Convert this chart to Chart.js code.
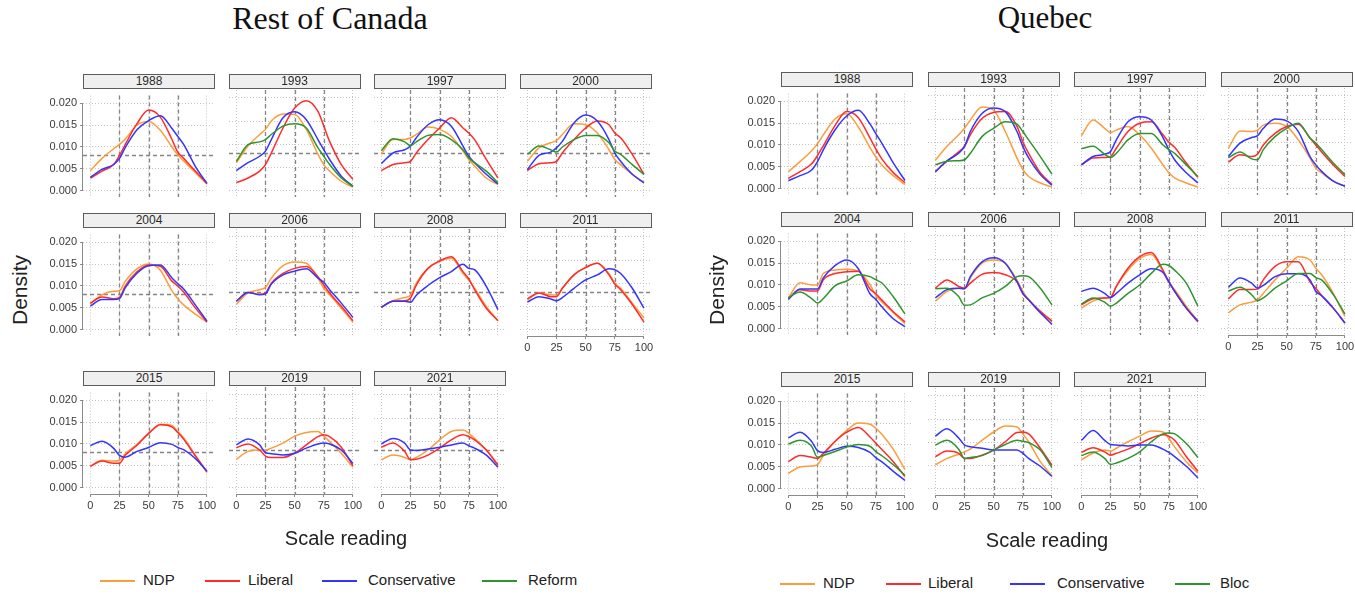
<!DOCTYPE html>
<html>
<head>
<meta charset="utf-8">
<script src="https://cdn.jsdelivr.net/npm/chart.js@4.4.1/dist/chart.umd.min.js"></script>
<style>
  body { margin: 0; background: #fff; }
  #page { position: relative; width: 1355px; height: 595px; overflow: hidden; font-family: "Liberation Sans", Arial, sans-serif; }
  .title { position: absolute; font-family: "Liberation Serif", "Times New Roman", serif; font-size: 32px; color: #111; transform: translateX(-50%); white-space: nowrap; }
  .strip { position: absolute; box-sizing: border-box; width: 132px; height: 15px; border: 1px solid #5c5c5c; background: #efefef; color: #2a2a2a; font-size: 12px; line-height: 13px; text-align: center; z-index: 2; }
  .facet { position: absolute; }
  .axtitle { position: absolute; font-size: 20px; color: #222; white-space: nowrap; }
  .legend { position: absolute; font-size: 15px; color: #222; white-space: nowrap; }
  .legend span.line { position: absolute; height: 0; border-top: 2px solid; width: 35px; }
  .legend span.txt { position: absolute; }
</style>
</head>
<body>
<div id="page"></div>
<script>
// sample points along the scale (0-100)
const xs = [0, 10, 20, 25, 30, 40, 50, 60, 70, 75, 80, 90, 100];
const years = ['1988', '1993', '1997', '2000', '2004', '2006', '2008', '2011', '2015', '2019', '2021'];
const xTicks = [0, 25, 50, 75, 100];
const yTicks = [0, 0.005, 0.010, 0.015, 0.020];
const refX = [25, 50, 75];
const refYRoc = 0.0082;

// Rest of Canada, one row per year
const rocNDP = [
  [0.0046,0.0074,0.0096,0.0106,0.0118,0.0150,0.0158,0.0138,0.0100,0.0082,0.0068,0.0042,0.0015],
  [0.0060,0.0096,0.0121,0.0132,0.0150,0.0165,0.0164,0.0132,0.0078,0.0056,0.0042,0.0020,0.0007],
  [0.0079,0.0110,0.0110,0.0114,0.0121,0.0137,0.0132,0.0117,0.0085,0.0067,0.0053,0.0027,0.0013],
  [0.0063,0.0092,0.0103,0.0108,0.0121,0.0144,0.0142,0.0124,0.0088,0.0067,0.0056,0.0035,0.0017],
  [0.0059,0.0080,0.0088,0.0089,0.0111,0.0139,0.0150,0.0136,0.0089,0.0071,0.0057,0.0036,0.0018],
  [0.0054,0.0079,0.0086,0.0091,0.0111,0.0138,0.0146,0.0143,0.0111,0.0089,0.0075,0.0046,0.0016],
  [0.0049,0.0062,0.0069,0.0074,0.0100,0.0132,0.0148,0.0154,0.0121,0.0107,0.0089,0.0050,0.0019],
  [0.0064,0.0079,0.0075,0.0074,0.0089,0.0118,0.0134,0.0143,0.0121,0.0100,0.0089,0.0057,0.0025],
  [0.0049,0.0063,0.0061,0.0063,0.0078,0.0099,0.0124,0.0145,0.0142,0.0128,0.0114,0.0074,0.0035],
  [0.0061,0.0078,0.0081,0.0081,0.0085,0.0096,0.0111,0.0119,0.0121,0.0111,0.0099,0.0074,0.0044],
  [0.0060,0.0070,0.0065,0.0060,0.0065,0.0081,0.0103,0.0121,0.0124,0.0117,0.0106,0.0081,0.0047]
];
const rocLiberal = [
  [0.0029,0.0045,0.0060,0.0081,0.0106,0.0153,0.0184,0.0168,0.0117,0.0088,0.0074,0.0045,0.0017],
  [0.0017,0.0027,0.0042,0.0056,0.0081,0.0135,0.0178,0.0194,0.0171,0.0139,0.0106,0.0056,0.0024],
  [0.0043,0.0056,0.0060,0.0063,0.0081,0.0110,0.0135,0.0157,0.0135,0.0124,0.0110,0.0067,0.0027],
  [0.0043,0.0058,0.0060,0.0063,0.0081,0.0110,0.0135,0.0150,0.0142,0.0124,0.0114,0.0078,0.0035],
  [0.0061,0.0075,0.0071,0.0074,0.0100,0.0132,0.0148,0.0145,0.0111,0.0100,0.0086,0.0050,0.0018],
  [0.0061,0.0080,0.0076,0.0079,0.0100,0.0121,0.0132,0.0136,0.0114,0.0096,0.0079,0.0050,0.0019],
  [0.0048,0.0061,0.0062,0.0068,0.0096,0.0132,0.0148,0.0157,0.0125,0.0109,0.0086,0.0046,0.0019],
  [0.0066,0.0079,0.0071,0.0071,0.0089,0.0118,0.0134,0.0143,0.0118,0.0098,0.0086,0.0054,0.0016],
  [0.0049,0.0061,0.0056,0.0056,0.0074,0.0097,0.0124,0.0144,0.0139,0.0126,0.0111,0.0073,0.0037],
  [0.0086,0.0094,0.0081,0.0068,0.0065,0.0065,0.0074,0.0092,0.0110,0.0114,0.0110,0.0087,0.0047],
  [0.0087,0.0096,0.0078,0.0060,0.0061,0.0070,0.0085,0.0103,0.0114,0.0110,0.0103,0.0081,0.0049]
];
const rocConservative = [
  [0.0031,0.0049,0.0060,0.0074,0.0099,0.0139,0.0160,0.0171,0.0142,0.0124,0.0106,0.0056,0.0017],
  [0.0043,0.0060,0.0074,0.0085,0.0110,0.0157,0.0170,0.0153,0.0110,0.0088,0.0067,0.0031,0.0009],
  [0.0058,0.0081,0.0088,0.0096,0.0114,0.0142,0.0153,0.0139,0.0096,0.0074,0.0060,0.0035,0.0014],
  [0.0045,0.0076,0.0083,0.0092,0.0106,0.0146,0.0163,0.0150,0.0110,0.0081,0.0063,0.0035,0.0017],
  [0.0054,0.0069,0.0069,0.0071,0.0096,0.0129,0.0146,0.0148,0.0118,0.0105,0.0093,0.0057,0.0020],
  [0.0061,0.0080,0.0075,0.0077,0.0098,0.0118,0.0126,0.0131,0.0111,0.0102,0.0086,0.0057,0.0026],
  [0.0048,0.0061,0.0061,0.0059,0.0074,0.0095,0.0112,0.0125,0.0141,0.0132,0.0129,0.0093,0.0043],
  [0.0059,0.0071,0.0066,0.0062,0.0069,0.0089,0.0107,0.0118,0.0131,0.0129,0.0121,0.0089,0.0046],
  [0.0096,0.0106,0.0090,0.0074,0.0070,0.0083,0.0092,0.0103,0.0099,0.0092,0.0087,0.0067,0.0038],
  [0.0092,0.0105,0.0092,0.0075,0.0073,0.0070,0.0074,0.0085,0.0094,0.0096,0.0094,0.0081,0.0052],
  [0.0094,0.0106,0.0096,0.0081,0.0080,0.0083,0.0087,0.0092,0.0096,0.0090,0.0085,0.0070,0.0044]
];
const rocReform = [
  null,
  [0.0063,0.0099,0.0105,0.0110,0.0121,0.0139,0.0144,0.0135,0.0092,0.0074,0.0056,0.0027,0.0009],
  [0.0086,0.0112,0.0105,0.0097,0.0105,0.0119,0.0121,0.0110,0.0088,0.0070,0.0060,0.0042,0.0017],
  [0.0078,0.0096,0.0088,0.0083,0.0094,0.0110,0.0119,0.0119,0.0103,0.0085,0.0078,0.0056,0.0035],
  null, null, null, null, null, null, null
];

// Quebec
const qcNDP = [
  [0.0039,0.0062,0.0087,0.0103,0.0123,0.0159,0.0171,0.0141,0.0094,0.0073,0.0055,0.0030,0.0010],
  [0.0061,0.0091,0.0116,0.0130,0.0148,0.0176,0.0169,0.0123,0.0066,0.0041,0.0026,0.0012,0.0003],
  [0.0114,0.0148,0.0130,0.0121,0.0126,0.0134,0.0116,0.0087,0.0051,0.0034,0.0023,0.0012,0.0003],
  [0.0087,0.0124,0.0123,0.0126,0.0137,0.0141,0.0134,0.0105,0.0066,0.0044,0.0034,0.0016,0.0005],
  [0.0071,0.0105,0.0100,0.0100,0.0126,0.0134,0.0136,0.0131,0.0101,0.0076,0.0062,0.0037,0.0012],
  [0.0059,0.0080,0.0087,0.0086,0.0109,0.0141,0.0148,0.0141,0.0105,0.0080,0.0062,0.0037,0.0014],
  [0.0044,0.0059,0.0066,0.0067,0.0091,0.0126,0.0151,0.0160,0.0123,0.0100,0.0084,0.0048,0.0016],
  [0.0034,0.0051,0.0057,0.0062,0.0076,0.0105,0.0130,0.0155,0.0148,0.0130,0.0116,0.0076,0.0026],
  [0.0035,0.0050,0.0052,0.0055,0.0076,0.0108,0.0133,0.0150,0.0147,0.0138,0.0125,0.0090,0.0044],
  [0.0051,0.0065,0.0074,0.0079,0.0085,0.0104,0.0122,0.0135,0.0133,0.0118,0.0101,0.0058,0.0028],
  [0.0062,0.0076,0.0083,0.0081,0.0087,0.0101,0.0113,0.0124,0.0122,0.0108,0.0090,0.0058,0.0033]
];
const qcLiberal = [
  [0.0024,0.0039,0.0057,0.0076,0.0098,0.0144,0.0176,0.0162,0.0116,0.0091,0.0069,0.0037,0.0014],
  [0.0037,0.0059,0.0079,0.0091,0.0116,0.0151,0.0164,0.0166,0.0134,0.0101,0.0076,0.0034,0.0009],
  [0.0051,0.0066,0.0067,0.0069,0.0087,0.0123,0.0141,0.0144,0.0116,0.0100,0.0089,0.0055,0.0024],
  [0.0057,0.0073,0.0069,0.0074,0.0094,0.0119,0.0134,0.0139,0.0109,0.0094,0.0079,0.0051,0.0026],
  [0.0069,0.0089,0.0086,0.0086,0.0112,0.0126,0.0130,0.0131,0.0091,0.0080,0.0066,0.0039,0.0016],
  [0.0087,0.0105,0.0091,0.0087,0.0098,0.0117,0.0121,0.0116,0.0101,0.0076,0.0062,0.0037,0.0016],
  [0.0051,0.0064,0.0066,0.0067,0.0091,0.0130,0.0155,0.0164,0.0126,0.0101,0.0081,0.0044,0.0014],
  [0.0064,0.0084,0.0084,0.0085,0.0105,0.0134,0.0144,0.0144,0.0101,0.0087,0.0071,0.0044,0.0012],
  [0.0062,0.0076,0.0072,0.0069,0.0081,0.0108,0.0129,0.0140,0.0118,0.0104,0.0090,0.0062,0.0028],
  [0.0069,0.0081,0.0076,0.0065,0.0065,0.0072,0.0083,0.0101,0.0121,0.0122,0.0118,0.0087,0.0050],
  [0.0078,0.0088,0.0079,0.0072,0.0076,0.0085,0.0097,0.0109,0.0116,0.0113,0.0104,0.0069,0.0037]
];
const qcConservative = [
  [0.0019,0.0030,0.0043,0.0062,0.0089,0.0134,0.0166,0.0179,0.0148,0.0126,0.0105,0.0059,0.0019],
  [0.0036,0.0060,0.0076,0.0091,0.0123,0.0162,0.0174,0.0166,0.0123,0.0091,0.0066,0.0030,0.0007],
  [0.0051,0.0069,0.0074,0.0080,0.0105,0.0144,0.0155,0.0148,0.0110,0.0084,0.0062,0.0034,0.0012],
  [0.0069,0.0098,0.0110,0.0114,0.0130,0.0150,0.0146,0.0123,0.0069,0.0051,0.0037,0.0016,0.0005],
  [0.0067,0.0091,0.0091,0.0091,0.0116,0.0144,0.0157,0.0137,0.0080,0.0067,0.0051,0.0023,0.0005],
  [0.0066,0.0084,0.0087,0.0086,0.0112,0.0144,0.0153,0.0141,0.0101,0.0076,0.0062,0.0034,0.0009],
  [0.0080,0.0087,0.0076,0.0067,0.0076,0.0098,0.0116,0.0129,0.0121,0.0101,0.0080,0.0044,0.0016],
  [0.0089,0.0109,0.0098,0.0087,0.0093,0.0112,0.0118,0.0118,0.0105,0.0080,0.0071,0.0044,0.0012],
  [0.0116,0.0129,0.0108,0.0087,0.0083,0.0090,0.0097,0.0094,0.0083,0.0071,0.0062,0.0040,0.0019],
  [0.0113,0.0129,0.0109,0.0094,0.0090,0.0087,0.0083,0.0083,0.0083,0.0076,0.0065,0.0048,0.0026],
  [0.0104,0.0125,0.0104,0.0095,0.0094,0.0092,0.0094,0.0094,0.0085,0.0078,0.0069,0.0048,0.0023]
];
const qcBloc = [
  null,
  [0.0051,0.0059,0.0060,0.0062,0.0076,0.0112,0.0130,0.0144,0.0139,0.0123,0.0105,0.0069,0.0031],
  [0.0086,0.0091,0.0074,0.0067,0.0076,0.0105,0.0119,0.0119,0.0094,0.0084,0.0076,0.0051,0.0026],
  [0.0066,0.0079,0.0064,0.0062,0.0084,0.0112,0.0130,0.0141,0.0109,0.0098,0.0084,0.0055,0.0030],
  [0.0071,0.0084,0.0069,0.0059,0.0069,0.0098,0.0109,0.0123,0.0119,0.0112,0.0105,0.0073,0.0034],
  [0.0086,0.0087,0.0069,0.0050,0.0051,0.0066,0.0076,0.0091,0.0112,0.0114,0.0112,0.0087,0.0051],
  [0.0053,0.0066,0.0057,0.0048,0.0055,0.0076,0.0094,0.0119,0.0139,0.0136,0.0126,0.0098,0.0048],
  [0.0081,0.0089,0.0073,0.0060,0.0066,0.0087,0.0103,0.0119,0.0119,0.0110,0.0105,0.0073,0.0031],
  [0.0102,0.0111,0.0097,0.0072,0.0076,0.0085,0.0095,0.0101,0.0097,0.0085,0.0076,0.0055,0.0031],
  [0.0094,0.0104,0.0085,0.0065,0.0067,0.0071,0.0083,0.0095,0.0104,0.0102,0.0099,0.0083,0.0045],
  [0.0071,0.0079,0.0065,0.0052,0.0055,0.0065,0.0079,0.0101,0.0118,0.0120,0.0118,0.0097,0.0067]
];

const colors = { ndp: '#fb9d3c', lib: '#ff2b2b', con: '#3434ff', third: '#2e952e' };
Chart.defaults.font.family = '"Liberation Sans", Arial, sans-serif';

const page = document.getElementById('page');

// plot geometry (pixels)
const PLOT_W = 132, PLOT_H = 107;
const PAD_L = 50, PAD_R = 14, PAD_T = 4, PAD_B = 24;

// dashed reference lines and range-frame axes
const refLines = {
  id: 'refLines',
  beforeDatasetsDraw(chart, args, opts) {
    const { ctx, chartArea: a, scales: { x, y } } = chart;
    ctx.save();
    ctx.strokeStyle = '#858585';
    ctx.lineWidth = 1.3;
    ctx.setLineDash([4, 3]);
    refX.forEach(v => {
      const px = Math.round(x.getPixelForValue(v)) + 0.5;
      ctx.beginPath(); ctx.moveTo(px, a.top); ctx.lineTo(px, a.bottom); ctx.stroke();
    });
    if (opts.refY != null) {
      const py = Math.round(y.getPixelForValue(opts.refY)) + 0.5;
      ctx.beginPath(); ctx.moveTo(a.left, py); ctx.lineTo(a.right, py); ctx.stroke();
    }
    ctx.restore();
  },
  afterDraw(chart, args, opts) {
    const { ctx, chartArea: a, scales: { x, y } } = chart;
    ctx.save();
    ctx.strokeStyle = '#8a8a8a';
    ctx.lineWidth = 1;
    if (opts.yAxis) {
      ctx.beginPath();
      ctx.moveTo(a.left - 0.5, y.getPixelForValue(yTicks[0]));
      ctx.lineTo(a.left - 0.5, y.getPixelForValue(yTicks[yTicks.length - 1]));
      ctx.stroke();
    }
    if (opts.xAxis) {
      ctx.beginPath();
      ctx.moveTo(x.getPixelForValue(xTicks[0]), a.bottom + 0.5);
      ctx.lineTo(x.getPixelForValue(xTicks[xTicks.length - 1]), a.bottom + 0.5);
      ctx.stroke();
    }
    ctx.restore();
  }
};

function addDiv(cls, css, text) {
  const d = document.createElement('div');
  d.className = cls;
  Object.assign(d.style, css);
  if (text != null) d.textContent = text;
  page.appendChild(d);
  return d;
}

function drawPanel(panel) {
  years.forEach((yr, i) => {
    const row = Math.floor(i / 4), col = i % 4;
    const left = panel.lefts[col], stripTop = panel.stripTops[row];
    addDiv('strip', { left: left + 'px', top: stripTop + 'px' }, yr);

    const showY = col === 0;
    const showX = i >= 7;
    const canvas = document.createElement('canvas');
    canvas.width = PAD_L + PLOT_W + PAD_R;
    canvas.height = PAD_T + PLOT_H + PAD_B;
    canvas.className = 'facet';
    canvas.style.left = (left - PAD_L) + 'px';
    canvas.style.top = (stripTop + 16 - PAD_T) + 'px';
    page.appendChild(canvas);

    // reverse so the third party ends up drawn on top
    const datasets = panel.series
      .filter(s => s.data[i])
      .map(s => ({
        label: s.label,
        data: xs.map((x, k) => ({ x, y: s.data[i][k] })),
        borderColor: s.color,
        borderWidth: 1.5,
        pointRadius: 0,
        fill: false,
        cubicInterpolationMode: 'monotone'
      }))
      .reverse();

    new Chart(canvas, {
      type: 'line',
      data: { datasets },
      options: {
        responsive: false,
        animation: false,
        devicePixelRatio: 1,
        events: [],
        layout: { autoPadding: false, padding: { left: 0, right: PAD_R, top: PAD_T, bottom: 0 } },
        plugins: {
          legend: { display: false },
          tooltip: { enabled: false },
          refLines: { refY: panel.refY, yAxis: showY, xAxis: showX }
        },
        scales: {
          x: {
            type: 'linear', min: -6.3, max: 106.9,
            afterBuildTicks: s => { s.ticks = xTicks.map(v => ({ value: v })); },
            afterFit: s => { s.height = PAD_B; },
            grid: { color: '#c4c4c4', lineWidth: 1, drawTicks: showX, tickLength: 3, tickColor: '#8a8a8a', tickBorderDash: [] },
            border: { display: false, dash: [1, 2] },
            ticks: { display: showX, padding: 2, color: '#3a3a3a', font: { size: 11 }, maxRotation: 0, autoSkip: false, callback: v => String(v) }
          },
          y: {
            type: 'linear', min: -0.0014, max: 0.0217,
            afterBuildTicks: s => { s.ticks = yTicks.map(v => ({ value: v })); },
            afterFit: s => { s.width = PAD_L; },
            grid: { color: '#c4c4c4', lineWidth: 1, drawTicks: showY, tickLength: 3, tickColor: '#8a8a8a', tickBorderDash: [] },
            border: { display: false, dash: [1, 2] },
            ticks: { display: showY, padding: 3, color: '#3a3a3a', font: { size: 11 }, autoSkip: false, callback: v => v.toFixed(3) }
          }
        }
      },
      plugins: [refLines]
    });
  });
}

drawPanel({
  lefts: [83, 228.5, 374, 519.5],
  stripTops: [74, 213, 371],
  refY: refYRoc,
  series: [
    { label: 'NDP', color: colors.ndp, data: rocNDP },
    { label: 'Liberal', color: colors.lib, data: rocLiberal },
    { label: 'Conservative', color: colors.con, data: rocConservative },
    { label: 'Reform', color: colors.third, data: rocReform }
  ]
});
drawPanel({
  lefts: [781, 927.5, 1074, 1220.5],
  stripTops: [72, 212, 372],
  refY: null,
  series: [
    { label: 'NDP', color: colors.ndp, data: qcNDP },
    { label: 'Liberal', color: colors.lib, data: qcLiberal },
    { label: 'Conservative', color: colors.con, data: qcConservative },
    { label: 'Bloc', color: colors.third, data: qcBloc }
  ]
});

// titles and axis labels
addDiv('title', { left: '330px', top: '0px' }, 'Rest of Canada');
addDiv('title', { left: '1045px', top: '0px', fontSize: '31px' }, 'Quebec');
addDiv('axtitle', { left: '20px', top: '290px', fontSize: '21px', transform: 'translate(-50%,-50%) rotate(-90deg)' }, 'Density');
addDiv('axtitle', { left: '717px', top: '290px', fontSize: '21px', transform: 'translate(-50%,-50%) rotate(-90deg)' }, 'Density');
addDiv('axtitle', { left: '346px', top: '538px', transform: 'translate(-50%,-50%)' }, 'Scale reading');
addDiv('axtitle', { left: '1047px', top: '540px', transform: 'translate(-50%,-50%)' }, 'Scale reading');

// legends
function legend(items, y) {
  const box = addDiv('legend', { left: '0px', top: y + 'px' });
  items.forEach(it => {
    const ln = document.createElement('span');
    ln.className = 'line';
    ln.style.left = it.lineX + 'px';
    ln.style.top = '0px';
    ln.style.borderColor = it.color;
    box.appendChild(ln);
    const t = document.createElement('span');
    t.className = 'txt';
    t.style.left = it.textX + 'px';
    t.style.top = '-9px';
    t.textContent = it.label;
    box.appendChild(t);
  });
}
legend([
  { label: 'NDP', color: colors.ndp, lineX: 100, textX: 143 },
  { label: 'Liberal', color: colors.lib, lineX: 205, textX: 248 },
  { label: 'Conservative', color: colors.con, lineX: 322, textX: 368 },
  { label: 'Reform', color: colors.third, lineX: 482, textX: 528 }
], 580);
legend([
  { label: 'NDP', color: colors.ndp, lineX: 780, textX: 823 },
  { label: 'Liberal', color: colors.lib, lineX: 886, textX: 928 },
  { label: 'Conservative', color: colors.con, lineX: 1010, textX: 1057 },
  { label: 'Bloc', color: colors.third, lineX: 1175, textX: 1220 }
], 583);
</script>
</body>
</html>
